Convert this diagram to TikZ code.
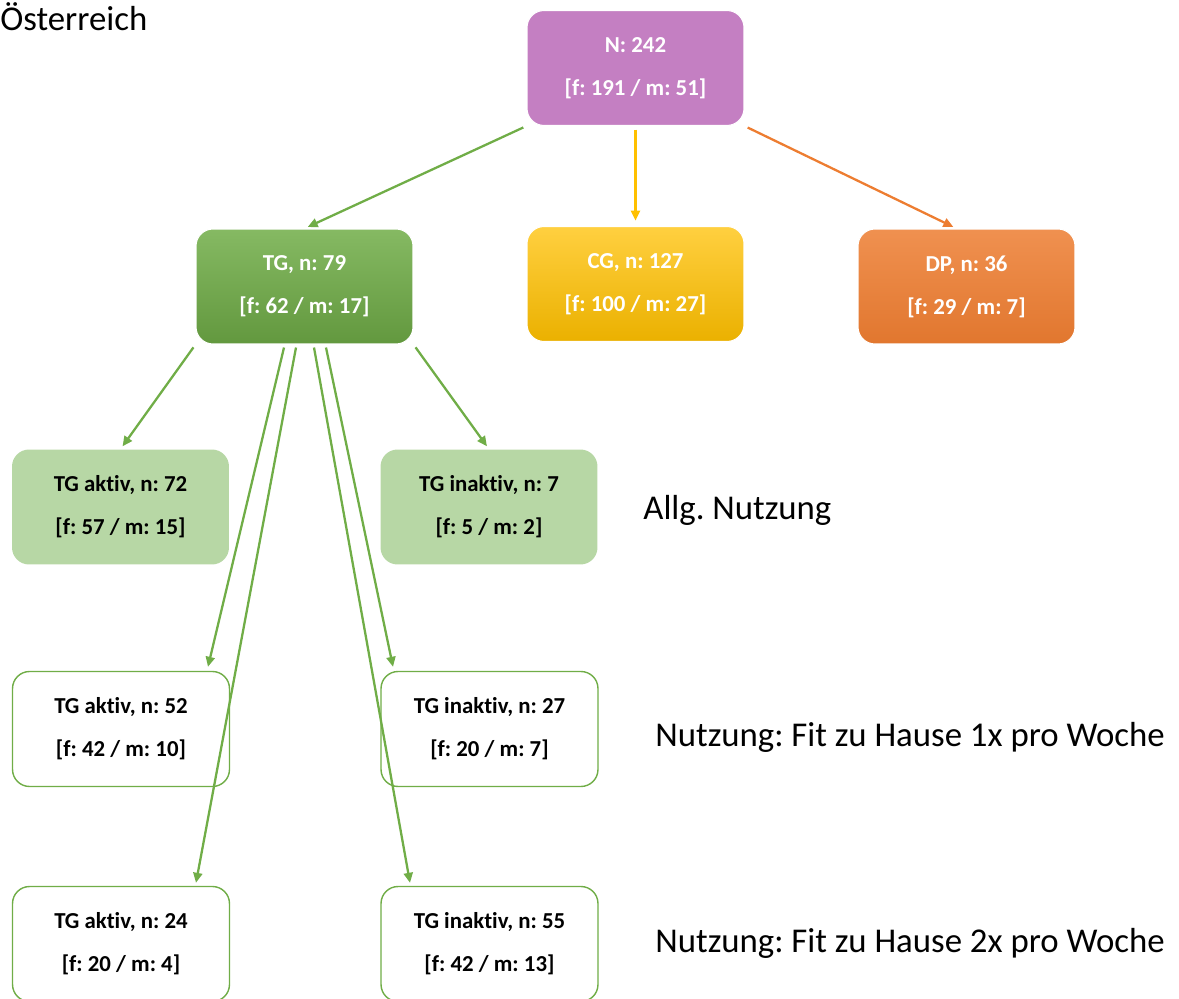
\documentclass[tikz,border=0pt]{standalone}
\usepackage{fontspec}
\setmainfont{Carlito}[Ligatures=NoCommon]
\usepackage{tikz}
\usetikzlibrary{positioning}
\usetikzlibrary{arrows.meta}
\usepackage{xcolor}
\definecolor{tggreen}{HTML}{70AD47}
\definecolor{tglight}{HTML}{B7D7A5}
\definecolor{nviolet}{HTML}{C47FC2}
\definecolor{cggold}{HTML}{FFC000}
\definecolor{dporange}{HTML}{ED7D31}
\newcommand{\boxfont}{\fontsize{13}{15.6}\selectfont\bfseries}
\newcommand{\labfont}{\fontsize{19.8}{24}\selectfont}
\frenchspacing

\begin{document}
\begin{tikzpicture}[x=0.02cm, y=-0.02cm,
  box/.style = {rounded corners=0.34cm, minimum width=4.34cm, minimum height=2.3cm, inner sep=0pt, align=center, font=\boxfont},
  top/.style = {box, draw=white, line width=0.6pt, text=white},
  allg/.style = {box, fill=tglight},
  fit/.style = {box, draw=tggreen, line width=0.8pt, fill=white},
  lab/.style = {anchor=west, inner sep=0pt, font=\labfont},
  >={Triangle[length=0.2cm, width=0.18cm]}]
\useasboundingbox (0,0) rectangle (1179,999);

\node[lab] (land) at (0,17) {Österreich};

\node[top, fill=nviolet] (n) at (635.5,68) {N: 242\\[8.8pt][f: 191 / m: 51]};
\node[top, top color=tggreen!85!white, bottom color=tggreen!88!black] (tg) at (304.5,286.5) {TG, n: 79\\[8.8pt][f: 62 / m: 17]};
\node[top, top color=cggold!75!white, bottom color=cggold!92!black] (cg) at (635.5,284) {CG, n: 127\\[8.8pt][f: 100 / m: 27]};
\node[top, top color=dporange!85!white, bottom color=dporange!95!black] (dp) at (966.5,286.5) {DP, n: 36\\[8.8pt][f: 29 / m: 7]};

\node[allg] (a72) at (120.5,507) {TG aktiv, n: 72\\[8.8pt][f: 57 / m: 15]};
\node[allg] (i7) at (489,507) {TG inaktiv, n: 7\\[8.8pt][f: 5 / m: 2]};
\node[fit] (a52) at (121,729) {TG aktiv, n: 52\\[8.8pt][f: 42 / m: 10]};
\node[fit] (i27) at (489.5,729) {TG inaktiv, n: 27\\[8.8pt][f: 20 / m: 7]};
\node[fit] (a24) at (121,944) {TG aktiv, n: 24\\[8.8pt][f: 20 / m: 4]};
\node[fit] (i55) at (489.5,944) {TG inaktiv, n: 55\\[8.8pt][f: 42 / m: 13]};

\node[lab] (allgnutz) at (643,510) {Allg. Nutzung};
\node[lab] (einmal) at (655,737) {Nutzung: Fit zu Hause 1x pro Woche};
\node[lab] (zweimal) at (655,943) {Nutzung: Fit zu Hause 2x pro Woche};

\path (n.south west) edge [->, tggreen, line width=1.3pt, shorten <=2pt, shorten >=2pt] (tg.north);
\path (n.south) edge [->, cggold, line width=1.3pt, shorten <=2pt, shorten >=3pt] (cg.north);
\path (n.south east) edge [->, dporange, line width=1.3pt, shorten <=2pt, shorten >=2pt] ([xshift=-0.2cm]dp.north);
\path (tg.south west) edge [->, tggreen, line width=1.3pt, shorten <=2pt, shorten >=2pt] (a72.north);
\path (tg.south east) edge [->, tggreen, line width=1.3pt, shorten <=2pt, shorten >=2pt] (i7.north);
\path ([xshift=-0.41cm, yshift=-0.06cm]tg.south) edge [->, tggreen, line width=1.3pt] ([xshift=1.74cm, yshift=0.08cm]a52.north);
\path ([xshift=-0.17cm, yshift=-0.06cm]tg.south) edge [->, tggreen, line width=1.3pt] ([xshift=1.5cm, yshift=0.06cm]a24.north);
\path ([xshift=0.19cm, yshift=-0.06cm]tg.south) edge [->, tggreen, line width=1.3pt] ([xshift=-1.59cm, yshift=0.06cm]i55.north);
\path ([xshift=0.43cm, yshift=-0.06cm]tg.south) edge [->, tggreen, line width=1.3pt] ([xshift=-1.93cm, yshift=0.08cm]i27.north);
\end{tikzpicture}
\end{document}
